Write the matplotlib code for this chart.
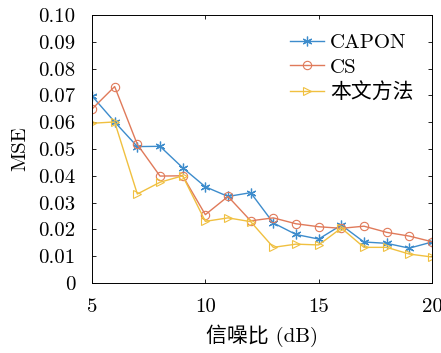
import matplotlib
matplotlib.use("Agg")
import matplotlib.pyplot as plt

snr = [5, 6, 7, 8, 9, 10, 11, 12, 13, 14, 15, 16, 17, 18, 19, 20]
capon = [0.0698, 0.0601, 0.0509, 0.0510, 0.0430, 0.0359, 0.0323, 0.0337, 0.0224, 0.0181,
         0.0164, 0.0216, 0.0153, 0.0148, 0.0130, 0.0153]
cs = [0.0649, 0.0733, 0.0517, 0.0399, 0.0400, 0.0255, 0.0323, 0.0232, 0.0243, 0.0221,
      0.0210, 0.0204, 0.0212, 0.0189, 0.0175, 0.0154]
proposed = [0.0596, 0.0601, 0.0332, 0.0376, 0.0400, 0.0230, 0.0243, 0.0229, 0.0133, 0.0145,
            0.0142, 0.0205, 0.0133, 0.0133, 0.0108, 0.0097]
labels = ["CAPON", "CS", "本文方法"]
yticks = [0.00, 0.01, 0.02, 0.03, 0.04, 0.05, 0.06, 0.07, 0.08, 0.09, 0.10]
ytick_labels = ["0", "0.01", "0.02", "0.03", "0.04", "0.05", "0.06", "0.07", "0.08", "0.09", "0.10"]
xticks = [5, 10, 15, 20]

plt.rcParams['font.family'] = ['cmr10', 'Noto Sans CJK SC', 'DejaVu Sans']
plt.rcParams['axes.formatter.use_mathtext'] = True
plt.rcParams['mathtext.fontset'] = 'cm'

fig = plt.figure(figsize=(4.41, 3.53), dpi=100)
ax = fig.add_axes([0.2086, 0.1983, 0.7710, 0.7592])

colors = ['#3d8ccc', '#e07a5a', '#f0c040']
ax.plot(snr, capon, color=colors[0], marker=(6, 2, 0), markersize=7, linewidth=1.0,
        markeredgewidth=0.9, label=labels[0])
ax.plot(snr, cs, color=colors[1], marker='o', markersize=6, markerfacecolor='none',
        linewidth=1.0, markeredgewidth=0.8, label=labels[1])
ax.plot(snr, proposed, color=colors[2], marker='>', markersize=6, markerfacecolor='none',
        linewidth=1.0, markeredgewidth=0.8, label=labels[2])

ax.set_xlim(5, 20)
ax.set_ylim(0, 0.10)
ax.set_xticks(xticks)
ax.set_xticklabels([str(x) for x in xticks])
ax.set_yticks(yticks)
ax.set_yticklabels(ytick_labels)
ax.tick_params(direction='in', top=True, right=True, labelsize=15, length=3, width=0.6)
ax.tick_params(axis='y', pad=12)
ax.tick_params(axis='x', pad=11)
for s in ax.spines.values():
    s.set_linewidth(0.7)
ax.set_xlabel("信噪比 (dB)", fontsize=15, family=['cmr10', 'Noto Sans CJK SC'], labelpad=6)
ax.set_ylabel("MSE", fontsize=15, labelpad=6)
ax.legend(loc='upper right', frameon=False, handlelength=1.6,
          handletextpad=0.3, labelspacing=0.28, borderaxespad=0.5,
          prop={'family': ['cmr10', 'Noto Sans CJK SC'], 'size': 15})

fig.savefig("out.png", dpi=100)
